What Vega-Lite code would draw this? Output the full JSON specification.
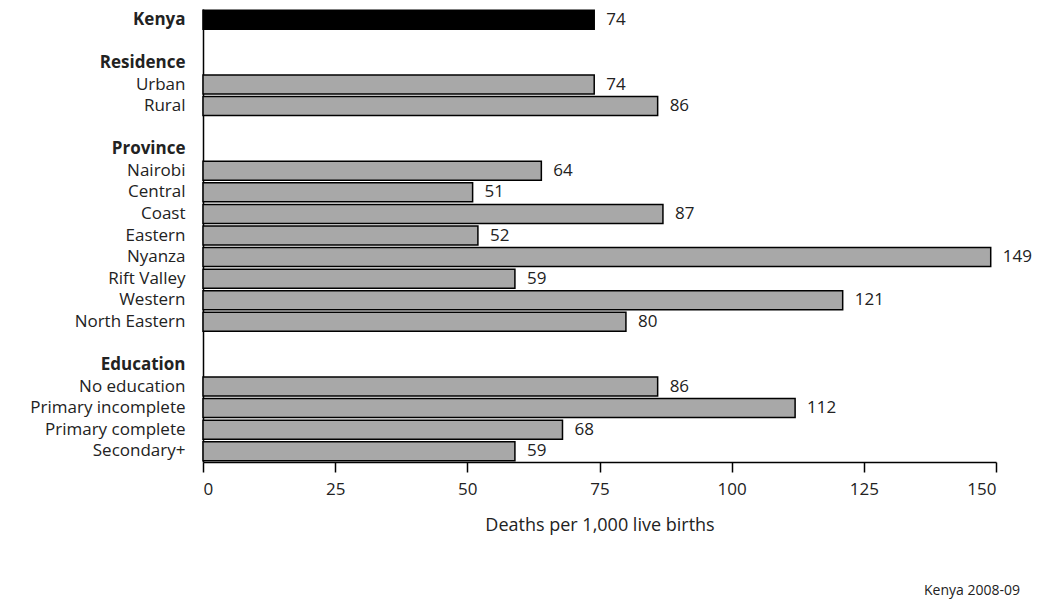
{
  "$schema": "https://vega.github.io/schema/vega-lite/v6.json",
  "autosize": {"type": "none"},
  "width": 793,
  "height": 453,
  "padding": {"left": 203, "top": 9, "right": 43, "bottom": 137},
  "background": "white",
  "config": {"view": {"stroke": null}, "font": "Open Sans"},
  "title": {
    "text": "Kenya 2008-09",
    "orient": "bottom",
    "anchor": "end",
    "frame": "group",
    "fontSize": 14,
    "fontWeight": "normal",
    "font": "Open Sans",
    "color": "#222",
    "offset": 50,
    "dx": 24
  },
  "data": {
    "values": [
      {"label": "Kenya", "value": 74},
      {"label": " ", "value": null},
      {"label": "Residence", "value": null},
      {"label": "Urban", "value": 74},
      {"label": "Rural", "value": 86},
      {"label": "  ", "value": null},
      {"label": "Province", "value": null},
      {"label": "Nairobi", "value": 64},
      {"label": "Central", "value": 51},
      {"label": "Coast", "value": 87},
      {"label": "Eastern", "value": 52},
      {"label": "Nyanza", "value": 149},
      {"label": "Rift Valley", "value": 59},
      {"label": "Western", "value": 121},
      {"label": "North Eastern", "value": 80},
      {"label": "   ", "value": null},
      {"label": "Education", "value": null},
      {"label": "No education", "value": 86},
      {"label": "Primary incomplete", "value": 112},
      {"label": "Primary complete", "value": 68},
      {"label": "Secondary+", "value": 59}
    ]
  },
  "encoding": {
    "y": {
      "field": "label",
      "type": "nominal",
      "sort": null,
      "scale": {
        "domain": ["Kenya", " ", "Residence", "Urban", "Rural", "  ", "Province", "Nairobi", "Central", "Coast", "Eastern", "Nyanza", "Rift Valley", "Western", "North Eastern", "   ", "Education", "No education", "Primary incomplete", "Primary complete", "Secondary+"],
        "paddingInner": 0.12,
        "paddingOuter": 0.06
      },
      "axis": {
        "title": null,
        "ticks": false,
        "domain": true,
        "domainColor": "black",
        "domainWidth": 1.5,
        "labelPadding": 18,
        "labelFontSize": 17,
        "labelColor": "#222",
        "labelFont": "Open Sans",
        "labelFontWeight": {
          "condition": {"test": "indexof(['Kenya','Residence','Province','Education'], datum.value) >= 0", "value": "bold"},
          "value": "normal"
        }
      }
    },
    "x": {
      "field": "value",
      "type": "quantitative",
      "scale": {"domain": [0, 150], "nice": false},
      "axis": {
        "title": "Deaths per 1,000 live births",
        "values": [0, 25, 50, 75, 100, 125, 150],
        "grid": false,
        "domainColor": "black",
        "domainWidth": 1.5,
        "tickColor": "black",
        "tickWidth": 1.5,
        "tickSize": 10,
        "labelPadding": 9,
        "labelFontSize": 17,
        "labelColor": "#222",
        "labelFont": "Open Sans",
        "titleFont": "Open Sans",
        "titleFontSize": 18,
        "titleFontWeight": "normal",
        "titleColor": "#222",
        "titlePadding": 19
      }
    }
  },
  "layer": [
    {
      "mark": {"type": "bar", "stroke": "black", "strokeWidth": 1.5},
      "encoding": {
        "fill": {
          "condition": {"test": "datum.label === 'Kenya'", "value": "black"},
          "value": "#a8a8a8"
        }
      }
    },
    {
      "mark": {"type": "text", "align": "left", "dx": 12, "fontSize": 17, "color": "#222", "font": "Open Sans"},
      "encoding": {"text": {"field": "value", "type": "quantitative"}}
    }
  ]
}
